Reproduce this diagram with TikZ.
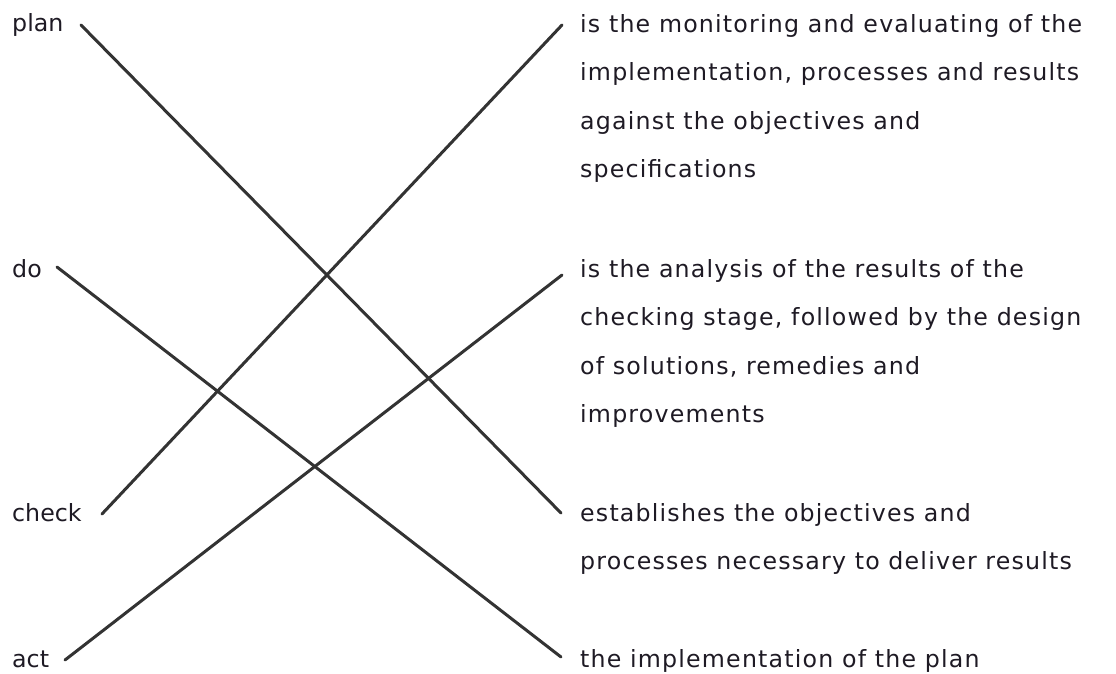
\documentclass[tikz,border=0pt]{standalone}
\usepackage{fontspec}
\setmainfont{DejaVu Sans}
\newfontfamily\descfont[LetterSpace=5]{DejaVu Sans}
\definecolor{txt}{HTML}{1E1A24}
\definecolor{ln}{HTML}{333333}
\begin{document}
\begin{tikzpicture}[x=1pt,y=-1pt,
  lbl/.style={anchor=base west,inner sep=0pt,text=txt,font=\fontsize{23.7}{48.5}\selectfont},
  desc/.style={anchor=base west,inner sep=0pt,text=txt,align=left,font=\descfont\fontsize{23.7}{48.5}\selectfont},
  conn/.style={draw=ln,line width=3pt,line cap=round}]
\useasboundingbox (0,0) rectangle (1116,674);
\node[lbl] (plan) at (12,32) {plan};
\node[lbl] (do) at (12,277) {do};
\node[lbl] (check) at (12,521) {check};
\node[lbl] (act) at (12,667) {act};
% base anchor of a multi-line node lies on its last line
\node[desc] (d1) at (580,177.5) {is the monitoring and evaluating of the\\implementation, processes and results\\against the objectives and\\specifications};
\node[desc] (d2) at (580,422.5) {is the analysis of the results of the\\checking stage, followed by the design\\of solutions, remedies and\\improvements};
\node[desc] (d3) at (580,569.5) {establishes the objectives and\\processes necessary to deliver results};
\node[desc] (d4) at (580,667) {the implementation of the plan};
\coordinate (planS) at (81,25);
\coordinate (doS) at (57,267);
\coordinate (checkS) at (102,514);
\coordinate (actS) at (65,660);
\coordinate (d1E) at (562,25);
\coordinate (d2E) at (562,275);
\coordinate (d3E) at (561,513);
\coordinate (d4E) at (561,657);
\draw[conn] (planS) -- (d3E);
\draw[conn] (doS) -- (d4E);
\draw[conn] (checkS) -- (d1E);
\draw[conn] (actS) -- (d2E);
\end{tikzpicture}
\end{document}
